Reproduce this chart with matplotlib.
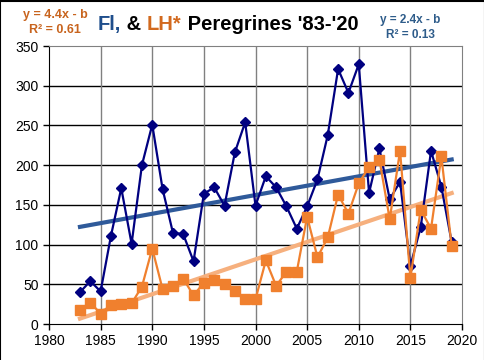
import numpy as np
import matplotlib
matplotlib.use("Agg")
import matplotlib.pyplot as plt

plt.rcParams['font.family'] = ['Liberation Sans', 'DejaVu Sans']

# ---- data ----
years = list(range(1983, 2020))
fl_counts = [40, 54, 41, 111, 171, 101, 200, 251, 170, 115, 113, 79,
             164, 172, 149, 216, 254, 149, 186, 172, 148, 120, 148, 182,
             238, 321, 291, 327, 165, 221, 157, 179, 73, 122, 218, 173, 103]
lh_counts = [18, 27, 13, 24, 25, 26, 47, 95, 44, 48, 57, 36,
             52, 56, 50, 42, 31, 31, 80, 48, 66, 66, 135, 84,
             109, 163, 139, 177, 198, 207, 132, 218, 58, 144, 120, 211, 98]

fl_fit_text = ["y = 2.4x - b", "R\u00b2 = 0.13"]
lh_fit_text = ["y = 4.4x - b", "R\u00b2 = 0.61"]

FL_COLOR = '#000080'
LH_COLOR = '#F0802E'
FL_TREND = '#2F5A9A'
LH_TREND = '#F6B07E'

x = np.array(years)
fl = np.array(fl_counts)
lh = np.array(lh_counts)

fig = plt.figure(figsize=(4.85, 3.6), dpi=100)
ax = fig.add_axes([49/485, 36/360, 413/485, 278/360])

# gridlines
for yv in range(50, 350, 50):
    ax.axhline(yv, color='black', lw=1.0, zorder=1)
for xv in range(1985, 2020, 5):
    ax.axvline(xv, color='#808080', lw=1.0, zorder=1)

# trendlines
for data, col in [(fl, FL_TREND), (lh, LH_TREND)]:
    m, b = np.polyfit(x, data, 1)
    ax.plot([x[0], x[-1]], [m * x[0] + b, m * x[-1] + b], color=col, lw=3, zorder=3)

ax.plot(x, fl, color=FL_COLOR, lw=1.6, marker='D', ms=5, zorder=4)
ax.plot(x, lh, color=LH_COLOR, lw=1.6, marker='s', ms=7, zorder=5)

ax.set_xlim(1980, 2020)
ax.set_ylim(0, 350)
ax.set_xticks(range(1980, 2021, 5))
ax.set_yticks(range(0, 351, 50))
ax.tick_params(direction='out', length=4, width=1, labelsize=10, colors='black')
ax.spines['left'].set_color('black')
ax.spines['bottom'].set_color('black')
ax.spines['top'].set_color('#808080')
ax.spines['right'].set_color('#808080')

# figure border on left, top, right
fig.add_artist(plt.Line2D([0.001, 0.001, 0.999, 0.999], [0, 0.998, 0.998, 0],
                          transform=fig.transFigure, color='black', lw=1.5))

# multi-coloured title
fig.canvas.draw()
r = fig.canvas.get_renderer()
pieces = [("Fl,", '#1F4E8C'), (" & ", 'black'), ("LH*", '#D2691E'),
          (" Peregrines '83-'20", 'black')]
xpos = 98 / 485
for txt, col in pieces:
    t = fig.text(xpos, 1 - 30/360, txt, color=col, fontsize=14.5, fontweight='bold',
                 ha='left', va='baseline')
    bb = t.get_window_extent(renderer=r)
    xpos += bb.width / fig.bbox.width

fig.text(55/485, 1 - 15/360, lh_fit_text[0], color='#C8641E', fontsize=9,
         fontweight='bold', ha='center', va='center')
fig.text(55/485, 1 - 30/360, lh_fit_text[1], color='#C8641E', fontsize=9,
         fontweight='bold', ha='center', va='center')
fig.text(410/485, 1 - 20/360, fl_fit_text[0], color='#2E5C8A', fontsize=8.5,
         fontweight='bold', ha='center', va='center')
fig.text(410/485, 1 - 35/360, fl_fit_text[1], color='#2E5C8A', fontsize=8.5,
         fontweight='bold', ha='center', va='center')

fig.savefig('out.png', dpi=100)
